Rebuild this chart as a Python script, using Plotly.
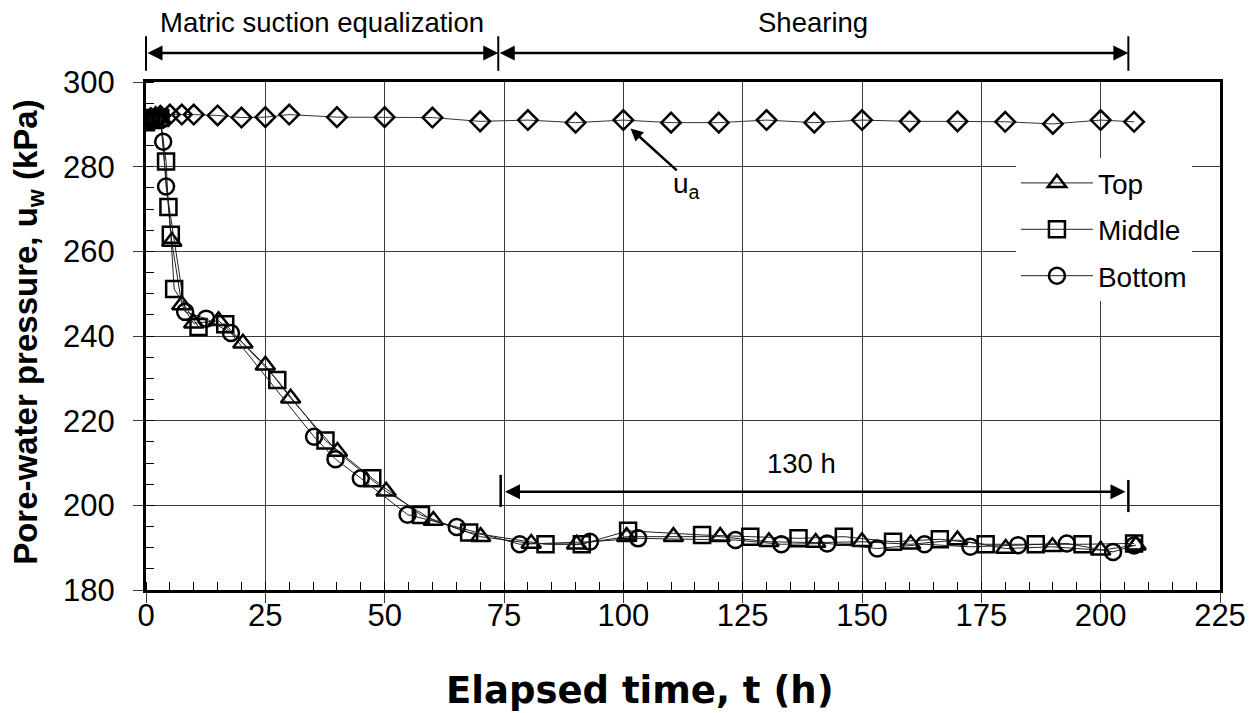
import plotly.graph_objects as go

# ---------------- data ----------------
ua_t = [0, 1, 2, 3, 5, 7.5, 10, 15, 20, 25, 30, 40, 50, 60, 70, 80, 90, 100, 110,
        120, 130, 140, 150, 160, 170, 180, 190, 200, 207]
ua_p = [291.0, 291.5, 291.5, 292.0, 292.3, 292.3, 292.3, 292.1, 291.6, 291.7, 292.3,
        291.7, 291.7, 291.6, 290.7, 291.0, 290.4, 291.0, 290.4, 290.4, 291.0, 290.4,
        291.0, 290.7, 290.7, 290.6, 290.1, 291.0, 290.6]

top_t = [0, 1, 2, 3, 5.4, 7.5, 10, 15.2, 20.3, 25, 30.3, 40.1, 50.3, 60.2, 70.1, 80.7,
         90.2, 100.7, 110.5, 120.3, 130.5, 140.3, 150, 160.2, 170, 180.1, 189.9, 200, 207.4]
top_p = [291.0, 291.5, 292.0, 291.5, 262.3, 247.3, 243.0, 243.6, 238.3, 233.1, 225.3,
         212.7, 203.3, 196.4, 192.6, 191.0, 190.8, 192.6, 192.6, 192.6, 191.4, 191.2,
         191.4, 190.8, 191.8, 189.8, 190.2, 189.4, 190.6]

mid_t = [0, 1, 2, 3, 4.2, 4.7, 5.2, 5.9, 11, 16.6, 27.5, 37.6, 47.4, 57.6, 67.7, 83.7,
         91.3, 101, 116.5, 126.6, 136.7, 146.2, 156.5, 166.3, 175.9, 186.4, 196.2, 207]
mid_p = [290.5, 291.0, 291.5, 291.5, 281.2, 270.5, 263.9, 251.1, 242.1, 242.8, 229.6,
         215.3, 206.4, 197.7, 193.6, 190.8, 190.8, 194.0, 193.0, 192.6, 192.2, 192.6,
         191.4, 192.0, 190.8, 190.8, 190.8, 191.0]

bot_t = [0, 1, 2, 3, 3.6, 4.2, 8.2, 12.6, 17.8, 35.2, 39.7, 45, 54.8, 65.1, 78.3, 93,
         103.1, 123.5, 133.1, 142.7, 153.2, 163.1, 172.7, 182.7, 192.9, 202.6, 207]
bot_p = [291.0, 291.5, 291.5, 291.0, 285.9, 275.3, 245.7, 244.1, 240.7, 216.2, 210.9,
         206.4, 197.8, 194.9, 190.8, 191.4, 192.2, 191.8, 190.8, 191.0, 189.8, 190.8,
         190.2, 190.6, 191.0, 189.0, 190.5]

phase_edges = [0, 73.8, 205.8]          # h
phase_names = ["Matric suction equalization", "Shearing"]
span_start, span_end, span_level = 74.3, 205.8, 203.2   # "130 h" bracket
span_label = "130 h"

FONT = "Liberation Sans, Arial, Helvetica, sans-serif"

fig = go.Figure()

fig.add_trace(go.Scatter(
    x=ua_t, y=ua_p, mode="lines+markers", name="u_a", showlegend=False,
    line=dict(color="#333333", width=1),
    marker=dict(symbol="diamond-open", size=15, color="black", line=dict(width=2.5, color="black")),
))

series = [("Top", top_t, top_p, "triangle-up-open", 17),
          ("Middle", mid_t, mid_p, "square-open", 16),
          ("Bottom", bot_t, bot_p, "circle-open", 16)]
for name, t, p, sym, sz in series:
    fig.add_trace(go.Scatter(
        x=t, y=p, mode="lines+markers", name=name, legendgroup=name,
        line=dict(color="#222222", width=1),
        marker=dict(symbol=sym, size=sz, color="black", line=dict(width=2.5, color="black")),
    ))

# phase brackets above the plot
for i, name in enumerate(phase_names):
    a, b = phase_edges[i], phase_edges[i + 1]
    fig.add_annotation(x=b, y=1.057, xref="x", yref="y domain",
                       ax=a, ay=1.057, axref="x", ayref="y domain",
                       showarrow=True, arrowhead=2, startarrowhead=2, arrowside="end+start",
                       arrowsize=1.2, arrowwidth=2.5, arrowcolor="black", text="")
    fig.add_annotation(x=(a + b) / 2, y=1.117, xref="x", yref="y domain",
                       xanchor="center", yanchor="middle", borderpad=0,
                       text=name, showarrow=False, font=dict(size=27.5, family=FONT))
for e in phase_edges:
    fig.add_shape(type="line", xref="x domain", yref="y domain",
                  x0=e / 225, x1=e / 225, y0=1.022, y1=1.09,
                  line=dict(color="black", width=2))

# 130 h bracket
fig.add_annotation(x=span_end - 0.6, y=span_level, xref="x", yref="y",
                   ax=span_start + 0.6, ay=span_level, axref="x", ayref="y",
                   showarrow=True, arrowhead=2, startarrowhead=2, arrowside="end+start",
                   arrowsize=1.2, arrowwidth=2.5, arrowcolor="black", text="")
fig.add_annotation(x=137.3, y=209.8, xref="x", yref="y",
                   text=span_label, showarrow=False, font=dict(size=27.5, family=FONT))
fig.add_shape(type="line", xref="x", yref="y", x0=span_start, x1=span_start,
              y0=199.6, y1=207.2, line=dict(color="black", width=2.5))
fig.add_shape(type="line", xref="x", yref="y", x0=span_end, x1=span_end,
              y0=198.4, y1=206.0, line=dict(color="black", width=2.5))

# u_a label
fig.add_annotation(x=101.5, y=289.0, xref="x", yref="y",
                   ax=111.5, ay=278.8, axref="x", ayref="y",
                   showarrow=True, arrowhead=2, arrowsize=1.0, arrowwidth=2.5,
                   arrowcolor="black", text="")
fig.add_annotation(x=113.3, y=275.5, xref="x", yref="y", text="u<sub>a</sub>",
                   showarrow=False, font=dict(size=28, family=FONT))

# axis titles
fig.add_annotation(x=0.46, y=-0.197, xref="paper", yref="paper",
                   xanchor="center", yanchor="middle", showarrow=False,
                   text="<b>Elapsed time, t (h)</b>",
                   font=dict(size=37, family="DejaVu Sans, Liberation Sans, sans-serif"))
fig.add_annotation(x=-0.11, y=0.508, xref="paper", yref="paper",
                   xanchor="center", yanchor="middle", showarrow=False, textangle=-90,
                   text="<b>Pore-water pressure, u<sub>w</sub> (kPa)</b>",
                   font=dict(size=33, family=FONT))

# page body has an 8 px margin: size/margins chosen so the plot area lands at 146..1220 x 82..590
fig.update_layout(
    width=1249, height=705,
    margin=dict(l=138, r=37, t=74, b=123),
    plot_bgcolor="white", paper_bgcolor="white",
    font=dict(family=FONT, size=27, color="black"),
    legend=dict(x=0.81, y=0.85, xanchor="left", yanchor="top",
                bgcolor="white", font=dict(size=28, family=FONT),
                tracegroupgap=7, borderwidth=0, itemwidth=72),
)
fig.update_xaxes(
    range=[0, 225], tick0=0, dtick=25, automargin=False,
    showgrid=True, gridcolor="#3a3a3a", gridwidth=1, zeroline=False,
    showline=True, linecolor="black", linewidth=3, mirror=True,
    ticks="outside", ticklen=10, tickcolor="#3a3a3a", tickwidth=1,
    ticklabelstandoff=-14,
    minor=dict(dtick=5, ticks="inside", ticklen=8, tickcolor="black", tickwidth=1, showgrid=False),
    tickfont=dict(size=31),
)
fig.update_yaxes(
    range=[180, 300], tick0=180, dtick=20, automargin=False,
    showgrid=True, gridcolor="#3a3a3a", gridwidth=1, zeroline=False,
    showline=True, linecolor="black", linewidth=3, mirror=True,
    ticks="outside", ticklen=10, tickcolor="#3a3a3a", tickwidth=1,
    ticklabelstandoff=12,
    minor=dict(dtick=5, ticks="inside", ticklen=8, tickcolor="black", tickwidth=1, showgrid=False),
    tickfont=dict(size=31),
)

fig.write_html("out.html")
